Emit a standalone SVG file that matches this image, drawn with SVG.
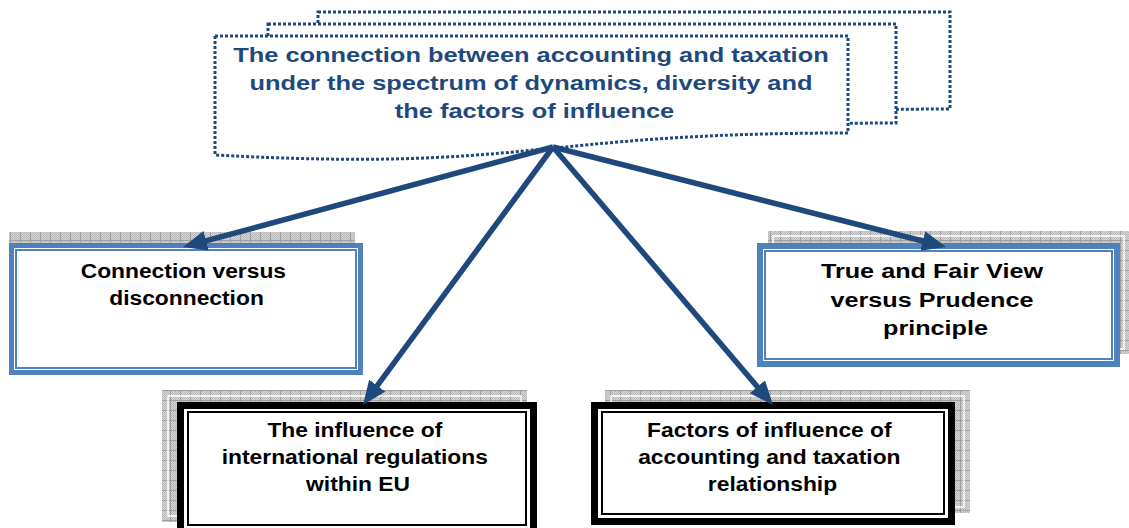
<svg xmlns="http://www.w3.org/2000/svg" width="1129" height="528" viewBox="0 0 1129 528">
<style>
.dot{fill:#fff;stroke:#1F497D;stroke-width:3;stroke-dasharray:3 2}
.shadow{fill:url(#grid)}
.shIn{fill:none;stroke:#fff;stroke-width:1.5}
.bOut{fill:#fff;stroke:#4F81BD;stroke-width:5}
.bIn{fill:none;stroke:#4F81BD;stroke-width:2}
.kOut{fill:#fff;stroke:#000;stroke-width:7}
.kIn{fill:none;stroke:#000;stroke-width:2}
.t{font-family:"Liberation Sans",Arial,sans-serif;font-weight:bold;text-anchor:middle;fill:#000}
.tt{fill:#1F497D}
.conn{stroke:#1F497D;stroke-width:5.5;fill:none;marker-end:url(#ah)}
</style>
<defs>
<pattern id="fine" width="2" height="2" patternUnits="userSpaceOnUse">
<rect width="2" height="2" fill="#d6d6d6"/>
<rect width="1" height="1" fill="#b9b9b9"/>
<rect x="1" y="1" width="1" height="1" fill="#b9b9b9"/>
</pattern>
<pattern id="grid" width="10" height="10" patternUnits="userSpaceOnUse">
<rect width="10" height="10" fill="url(#fine)"/>
<path d="M0,0.5H10M0.5,0V10" stroke="#a0a0a0" stroke-width="1"/>
</pattern>
<marker id="ah" viewBox="0 0 24 20" refX="12" refY="10" markerWidth="24" markerHeight="20" markerUnits="userSpaceOnUse" orient="auto">
<path d="M0,0 L24,10 L0,20 z" fill="#1F497D"/>
</marker>
</defs>

<g id="title">
<path class="dot" d="M318,12 H950 V109 C633,109 633,148 318,131 Z"/>
<path class="dot" d="M268,24 H896 V123 C580,123 580,162 268,145 Z"/>
<path class="dot" d="M215,36 H848 V133 C530,133 530,172 215,155 Z"/>
<text class="t tt" font-size="21" transform="translate(534.5 0) scale(1.21 1)">
<tspan x="0" y="62">The connection between accounting and taxation</tspan>
<tspan x="0" y="90">under the spectrum of dynamics, diversity and</tspan>
<tspan x="0" y="118">the factors of influence</tspan>
</text>
</g>

<g id="box-connection">
<rect class="shadow" x="9" y="232" width="346" height="131"/>
<rect class="bOut" x="11.5" y="245.5" width="349" height="127"/>
<rect class="bIn" x="16" y="250" width="340" height="118"/>
<text class="t" font-size="19.5" transform="translate(186.5 0) scale(1.17 1)">
<tspan x="0" y="278">Connection versus</tspan>
<tspan x="0" y="305">disconnection</tspan>
</text>
</g>

<g id="box-truefair">
<rect class="shadow" x="768" y="231" width="361" height="123"/>
<rect class="shIn" x="773" y="236" width="351" height="113"/>
<rect class="bOut" x="760" y="246" width="357" height="118" style="stroke-width:6"/>
<rect class="bIn" x="765" y="251" width="347" height="108"/>
<text class="t" font-size="21" transform="translate(935.5 0) scale(1.2 1)">
<tspan x="0" y="278">True and Fair View</tspan>
<tspan x="0" y="307">versus Prudence</tspan>
<tspan x="0" y="335">principle</tspan>
</text>
</g>

<g id="box-international">
<rect class="shadow" x="162" y="390" width="365" height="132"/>
<rect class="shIn" x="168" y="396" width="353" height="120"/>
<rect class="kOut" x="180.5" y="405.5" width="353" height="127"/>
<rect class="kIn" x="188" y="412" width="338" height="113"/>
<text class="t" font-size="19.5" transform="translate(358 0) scale(1.17 1)">
<tspan x="0" y="437">The influence of</tspan>
<tspan x="0" y="464">international regulations</tspan>
<tspan x="0" y="491">within EU</tspan>
</text>
</g>

<g id="box-factors">
<rect class="shadow" x="605" y="390" width="365" height="123"/>
<rect class="shIn" x="611" y="396" width="353" height="111"/>
<rect class="kOut" x="594.5" y="405.5" width="357" height="116"/>
<rect class="kIn" x="602" y="412" width="342" height="102"/>
<text class="t" font-size="19.5" transform="translate(772.5 0) scale(1.17 1)">
<tspan x="0" y="437">Factors of influence of</tspan>
<tspan x="0" y="464">accounting and taxation</tspan>
<tspan x="0" y="491">relationship</tspan>
</text>
</g>

<g id="connectors">
<line class="conn" x1="553" y1="147" x2="194.6" y2="243.9"/>
<line class="conn" x1="553" y1="147" x2="934.4" y2="244"/>
<line class="conn" x1="553" y1="147" x2="370.1" y2="395.3"/>
<line class="conn" x1="553" y1="147" x2="765.2" y2="395.9"/>
</g>
</svg>
